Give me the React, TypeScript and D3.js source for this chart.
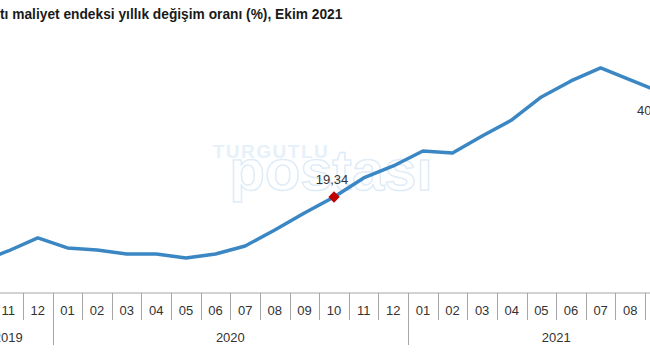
import React from 'react'
import * as d3 from 'd3'

// Bina inşaatı maliyet endeksi, yıllık değişim (%), 2019-10 .. 2021-10
const MONTHS = [
  '10', '11', '12',
  '01', '02', '03', '04', '05', '06', '07', '08', '09', '10', '11', '12',
  '01', '02', '03', '04', '05', '06', '07', '08', '09', '10',
]
const YEARS = ['2019', '2020', '2021']
const YEAR_OF = [
  '2019', '2019', '2019',
  '2020', '2020', '2020', '2020', '2020', '2020', '2020', '2020', '2020', '2020', '2020', '2020',
  '2021', '2021', '2021', '2021', '2021', '2021', '2021', '2021', '2021', '2021',
]
const VALUES = [
  3.86, 6.48, 9.58,
  7.2, 6.72, 5.77, 5.77, 4.82, 5.77, 7.67, 11.48, 15.53, 19.34, 23.86, 26.72,
  30.29, 29.82, 33.86, 37.67, 43.15, 46.96, 50.06, 47.2, 44.34, 40.05,
]
const HIGHLIGHT = [12] // 2020-10
const LABELED = [12, 24]

const TITLE = 'tı maliyet endeksi yıllık değişim oranı (%), Ekim 2021'

const W = 650
const H = 360
const LINE = '#3A87C4'
const AXIS = '#A6A6A6'
const FONT = 'Arial, "Liberation Sans", sans-serif'

const fmt = (v: number) => v.toFixed(2).replace('.', ',')

export default function App() {
  const keys = MONTHS.map((m, i) => `${YEAR_OF[i]}-${m}`)
  const x = d3.scaleBand<string>().domain(keys).range([-36.24, 704.3]).paddingInner(0).paddingOuter(0)
  const y = d3.scaleLinear().domain([0, 60]).range([278.2, 26.2])
  const cx = (i: number) => (x(keys[i]) ?? 0) + x.bandwidth() / 2

  const line = d3.line<number>()
    .x((_, i) => cx(i))
    .y((d) => y(d))
  const axisY = 293

  // year spans
  const years = YEARS.map((yr) => {
    const idx = keys.map((k, i) => (k.startsWith(yr) ? i : -1)).filter((i) => i >= 0)
    const x0 = x(keys[idx[0]]) ?? 0
    const x1 = (x(keys[idx[idx.length - 1]]) ?? 0) + x.bandwidth()
    return { yr, x0, x1 }
  })

  return (
    <svg width={W} height={H} style={{ position: 'absolute', left: 0, top: 0, background: '#fff' }}
      fontFamily={FONT}>
      <rect width={W} height={H} fill="#fff" />
      <text x={0} y={19} fontSize={13.75} fontWeight="bold" fill="#1a1a1a">{TITLE}</text>

      {/* watermark */}
      <g>
        <text x={271} y={158} textAnchor="middle" fontSize={19} fontWeight="bold" fill="#E6F1FA"
          letterSpacing={1.5}>TURGUTLU</text>
        <text x={331} y={190} textAnchor="middle" fontSize={58} fontWeight="bold" fill="none"
          stroke="#DFECF8" strokeWidth={1.5}>postası</text>
      </g>

      {/* x axis */}
      <line x1={0} x2={W} y1={axisY} y2={axisY} stroke={AXIS} strokeWidth={1} />
      {keys.slice(1).map((k, i) => {
        const bx = Math.round(x(k) ?? 0) + 0.5
        const yearBreak = MONTHS[i + 1] === '01'
        return (
          <line key={k} x1={bx} x2={bx} y1={axisY} y2={yearBreak ? 345 : 320}
            stroke={AXIS} strokeWidth={1} />
        )
      })}
      {MONTHS.map((m, i) => (
        <text key={keys[i]} x={cx(i)} y={315} textAnchor="middle" fontSize={13} fill="#333">{m}</text>
      ))}
      {years.map((d) => (
        <text key={d.yr} x={(d.x0 + d.x1) / 2} y={342} textAnchor="middle" fontSize={13} fill="#333">{d.yr}</text>
      ))}

      <path d={line(VALUES) ?? ''} fill="none" stroke={LINE} strokeWidth={3.5}
        strokeLinejoin="round" strokeLinecap="round" />

      {HIGHLIGHT.map((i) => (
        <rect key={i} x={cx(i) - 4} y={y(VALUES[i]) - 4} width={8} height={8} fill="#C00000"
          transform={`rotate(45 ${cx(i)} ${y(VALUES[i])})`} />
      ))}
      {LABELED.map((i) => i === 24 ? (
        <text key={i} x={cx(i) - 20} y={y(VALUES[i]) + 5} textAnchor="end" fontSize={13} fill="#333">
          {fmt(VALUES[i])}
        </text>
      ) : (
        <text key={i} x={cx(i) - 2} y={y(VALUES[i]) - 13} textAnchor="middle" fontSize={13} fill="#333">
          {fmt(VALUES[i])}
        </text>
      ))}
    </svg>
  )
}
